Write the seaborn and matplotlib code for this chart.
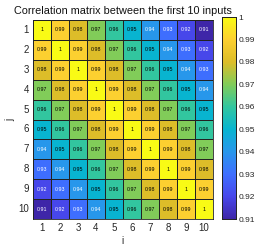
import numpy as np
import pandas as pd
import seaborn as sns
import matplotlib
matplotlib.use("Agg")
import matplotlib.pyplot as plt
from matplotlib.colors import LinearSegmentedColormap

labels = ["1", "2", "3", "4", "5", "6", "7", "8", "9", "10"]
corr = [
    [1, 0.99, 0.98, 0.97, 0.96, 0.95, 0.94, 0.93, 0.92, 0.91],
    [0.99, 1, 0.99, 0.98, 0.97, 0.96, 0.95, 0.94, 0.93, 0.92],
    [0.98, 0.99, 1, 0.99, 0.98, 0.97, 0.96, 0.95, 0.94, 0.93],
    [0.97, 0.98, 0.99, 1, 0.99, 0.98, 0.97, 0.96, 0.95, 0.94],
    [0.96, 0.97, 0.98, 0.99, 1, 0.99, 0.98, 0.97, 0.96, 0.95],
    [0.95, 0.96, 0.97, 0.98, 0.99, 1, 0.99, 0.98, 0.97, 0.96],
    [0.94, 0.95, 0.96, 0.97, 0.98, 0.99, 1, 0.99, 0.98, 0.97],
    [0.93, 0.94, 0.95, 0.96, 0.97, 0.98, 0.99, 1, 0.99, 0.98],
    [0.92, 0.93, 0.94, 0.95, 0.96, 0.97, 0.98, 0.99, 1, 0.99],
    [0.91, 0.92, 0.93, 0.94, 0.95, 0.96, 0.97, 0.98, 0.99, 1],
]
cbar_ticks = [0.91, 0.92, 0.93, 0.94, 0.95, 0.96, 0.97, 0.98, 0.99, 1]
cbar_ticklabels = ["0.91", "0.92", "0.93", "0.94", "0.95", "0.96", "0.97", "0.98", "0.99", "1"]

parula = LinearSegmentedColormap.from_list("parula", [
    (0.2422, 0.1504, 0.6603),
    (0.2803, 0.2782, 0.9221),
    (0.2440, 0.4358, 0.9988),
    (0.1540, 0.5902, 0.9218),
    (0.0297, 0.7082, 0.8163),
    (0.1938, 0.7758, 0.6251),
    (0.5044, 0.7993, 0.3480),
    (0.8634, 0.7406, 0.1596),
    (0.9892, 0.8136, 0.1885),
    (0.9769, 0.9839, 0.0805),
])

sns.set_theme(style="white")
plt.rcParams["font.family"] = ["Liberation Sans", "DejaVu Sans"]

df = pd.DataFrame(corr, index=labels, columns=labels)

fig = plt.figure(figsize=(2.63, 2.48), dpi=100)
ax = fig.add_axes([33/263, 1 - 219/248, 180/263, 199/248])
cax = fig.add_axes([222/263, 1 - 219/248, 14/263, 202/248])

sns.heatmap(df, ax=ax, cbar_ax=cax, cmap=parula, vmin=0.91, vmax=1.0,
            annot=True, fmt="g", annot_kws={"fontsize": 3.8},
            linewidths=0.6, linecolor="#222222",
            cbar_kws={"ticks": cbar_ticks})

for t in ax.texts:
    v = float(t.get_text())
    t.set_color("white" if v <= 0.94 else "black")

ax.set_title("Correlation matrix between the first 10 inputs", fontsize=7.8, pad=4, color="#111111")
ax.set_xlabel("i", fontsize=7.2, labelpad=2, color="#262626")
ax.set_ylabel("j", fontsize=7.2, labelpad=2, color="#262626")
ax.tick_params(axis="both", labelsize=7, length=0, pad=3, labelcolor="#262626")
ax.set_yticklabels(labels, rotation=0)
ax.set_xticklabels(labels, rotation=0)
for s in ax.spines.values():
    s.set_visible(True)
    s.set_color("#222222")
    s.set_linewidth(0.6)

cax.set_yticks(cbar_ticks)
cax.set_yticklabels(cbar_ticklabels)
cax.tick_params(axis="y", labelsize=6, direction="in", length=2, width=0.5, pad=2,
                colors="#262626")
for s in cax.spines.values():
    s.set_visible(True)
    s.set_color("#222222")
    s.set_linewidth(0.6)

fig.savefig("out.png", dpi=100)
